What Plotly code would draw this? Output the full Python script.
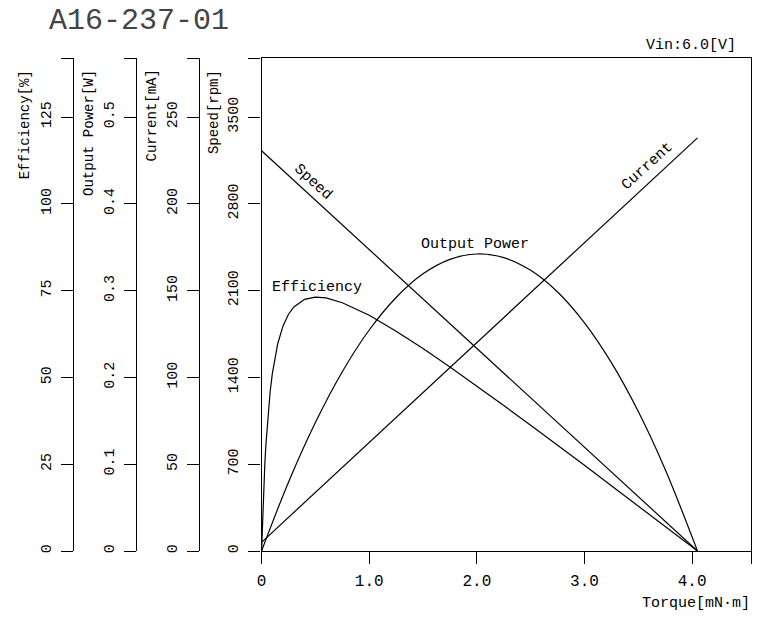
import plotly.graph_objects as go

# ---- data ----
torque_speed = [0.0, 4.05]
speed_rpm = [3228, 0]

torque_current = [0.0, 4.05]
current_ma = [5, 238]

torque_power = [0.0, 0.25, 0.5, 0.75, 1.0, 1.25, 1.5, 1.75, 2.0, 2.25, 2.5, 2.75,
                3.0, 3.25, 3.5, 3.75, 4.05]
power_w = [0.0, 0.0793, 0.1481, 0.2066, 0.2546, 0.2921, 0.3193, 0.3360, 0.3422,
           0.3380, 0.3234, 0.2984, 0.2629, 0.2170, 0.1607, 0.0939, 0.0]

torque_eff = [0.0, 0.005, 0.01, 0.02, 0.03, 0.04, 0.06, 0.08, 0.1, 0.125, 0.15, 0.2,
              0.25, 0.3, 0.4, 0.5, 0.6, 0.75, 0.875, 1.0, 1.25, 1.5, 1.75, 2.0, 2.25,
              2.5, 2.75, 3.0, 3.25, 3.5, 3.75, 4.05]
efficiency_pct = [0.0, 5.3, 10.1, 18.2, 24.9, 30.6, 39.4, 46.0, 51.1, 56.0, 59.7, 64.9,
                  68.2, 70.3, 72.5, 73.1, 72.9, 71.5, 69.8, 67.9, 63.3, 58.3, 53.0, 47.5,
                  41.9, 36.2, 30.5, 24.7, 18.8, 13.0, 7.1, 0.0]

x_ticks = [0, 1, 2, 3, 4]
x_tick_text = ["0", "1.0", "2.0", "3.0", "4.0"]
speed_ticks = [0, 700, 1400, 2100, 2800, 3500]
eff_ticks = [0, 25, 50, 75, 100, 125]
power_ticks = [0, 0.1, 0.2, 0.3, 0.4, 0.5]
power_tick_text = ["0", "0.1", "0.2", "0.3", "0.4", "0.5"]
current_ticks = [0, 50, 100, 150, 200, 250]

# ---- layout geometry (body margin removed by post_script) ----
W, H = 770, 620
ML, MR, MT, MB = 0, 19, 58, 69
PW = W - ML - MR
PH = H - MT - MB
X_MAX = 4.547
SPEED_MAX = 3976
EFF_MAX = SPEED_MAX / 700 * 25
POW_MAX = SPEED_MAX / 700 * 0.1
CUR_MAX = SPEED_MAX / 700 * 50

FONT = "Liberation Mono"
LINE = dict(color="black", width=1.2)


def px_x(p):
    return (p - ML) / PW


def px_y(p):
    return (H - MB - p) / PH


fig = go.Figure()
fig.add_trace(go.Scatter(x=torque_speed, y=speed_rpm, mode="lines", line=LINE,
                         yaxis="y", showlegend=False))
fig.add_trace(go.Scatter(x=torque_current, y=current_ma, mode="lines", line=LINE,
                         yaxis="y4", showlegend=False))
fig.add_trace(go.Scatter(x=torque_power, y=power_w, mode="lines",
                         line=dict(color="black", width=1.2, shape="spline"),
                         yaxis="y3", showlegend=False))
fig.add_trace(go.Scatter(x=torque_eff, y=efficiency_pct, mode="lines", line=LINE,
                         yaxis="y2", showlegend=False))

common_y = dict(showgrid=False, zeroline=False, showline=True, linecolor="black",
                linewidth=1.3, ticks="outside", ticklen=12, tickcolor="black",
                tickwidth=1.3, tickangle=-90, ticklabelstandoff=4,
                tickfont=dict(family=FONT, size=15, color="black"))

fig.update_layout(
    width=W, height=H, autosize=False,
    margin=dict(l=ML, r=MR, t=MT, b=MB),
    paper_bgcolor="white", plot_bgcolor="white",
    xaxis=dict(domain=[px_x(258.3), 1.0], range=[0, X_MAX],
               tickvals=x_ticks + [X_MAX], ticktext=x_tick_text + [""],
               showgrid=False, zeroline=False, showline=True, mirror=True,
               linecolor="black", linewidth=1.3, ticks="outside", ticklen=12,
               tickcolor="black", tickwidth=1.3, ticklabelstandoff=3,
               tickfont=dict(family=FONT, size=16, color="black")),
    yaxis=dict(range=[0, SPEED_MAX], anchor="x", mirror=True,
               tickvals=speed_ticks + [SPEED_MAX],
               ticktext=[str(v) for v in speed_ticks] + [""], **common_y),
    yaxis2=dict(range=[0, EFF_MAX], overlaying="y", anchor="free", side="left",
                position=px_x(68.3), tickvals=eff_ticks + [EFF_MAX],
                ticktext=[str(v) for v in eff_ticks] + [""], **common_y),
    yaxis3=dict(range=[0, POW_MAX], overlaying="y", anchor="free", side="left",
                position=px_x(132.3), tickvals=power_ticks + [POW_MAX],
                ticktext=power_tick_text + [""], **common_y),
    yaxis4=dict(range=[0, CUR_MAX], overlaying="y", anchor="free", side="left",
                position=px_x(195.0), tickvals=current_ticks + [CUR_MAX],
                ticktext=[str(v) for v in current_ticks] + [""], **common_y),
)

ann = []
# axis titles (rotated, top aligned)
for txt, cx in [("Efficiency[%]", 20), ("Output Power[W]", 84.5),
                ("Current[mA]", 147.5), ("Speed[rpm]", 210.5)]:
    ann.append(dict(text=txt, xref="paper", yref="paper", x=px_x(cx), y=px_y(68),
                    xanchor="center", yanchor="top", textangle=-90, showarrow=False,
                    font=dict(family=FONT, size=14, color="black")))
# chart title and notes
ann.append(dict(text="A16-237-01", xref="paper", yref="paper", x=px_x(135), y=px_y(21),
                xanchor="center", yanchor="middle", showarrow=False,
                font=dict(family=FONT, size=30, color="#444444")))
ann.append(dict(text="Vin:6.0[V]", xref="paper", yref="paper", x=px_x(738), y=px_y(45.5),
                xanchor="right", yanchor="middle", showarrow=False,
                font=dict(family=FONT, size=15, color="black")))
ann.append(dict(text="Torque[mN·m]", xref="paper", yref="paper", x=px_x(752), y=px_y(603),
                xanchor="right", yanchor="middle", showarrow=False,
                font=dict(family=FONT, size=15, color="black")))
# curve labels
for txt, tx, ty, ang in [("Speed", 0.477, 2969, 42), ("Current", 3.585, 3101, -42),
                         ("Output Power", 1.982, 2469, 0), ("Efficiency", 0.514, 2128, 0)]:
    ann.append(dict(text=txt, xref="x", yref="y", x=tx, y=ty, xanchor="center",
                    yanchor="middle", textangle=ang, showarrow=False,
                    font=dict(family=FONT, size=15, color="black")))
fig.update_layout(annotations=ann)

fig.write_html("out.html", config={"displayModeBar": False},
               post_script="document.body.style.margin='0';document.body.style.padding='0';")
